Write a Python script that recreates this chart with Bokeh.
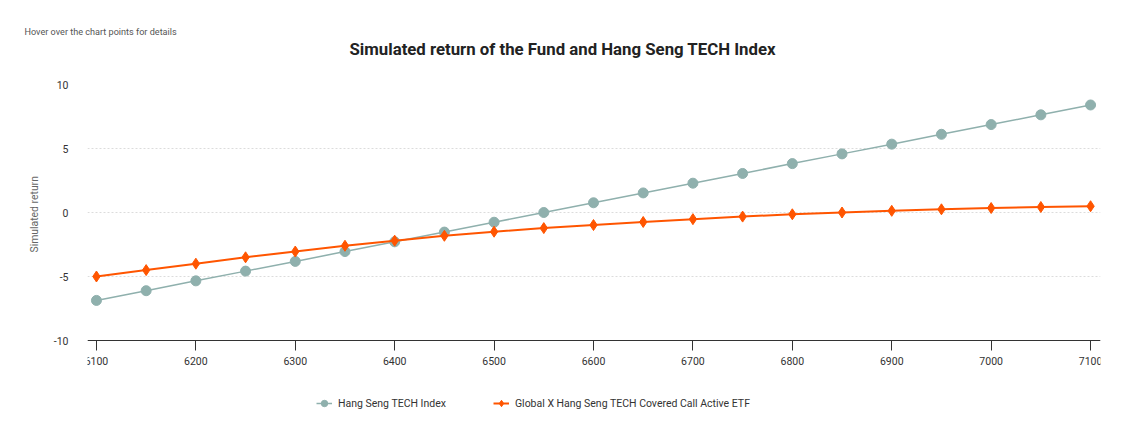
from bokeh.plotting import figure
from bokeh.models import (Range1d, Legend, LegendItem, FixedTicker, Title,
                          NumeralTickFormatter)
from bokeh.embed import file_html
from bokeh.resources import INLINE

# ---- data ----
index_levels = [6100, 6150, 6200, 6250, 6300, 6350, 6400, 6450, 6500, 6550, 6600,
                6650, 6700, 6750, 6800, 6850, 6900, 6950, 7000, 7050, 7100]
hstech_return = [-6.87, -6.11, -5.34, -4.58, -3.82, -3.05, -2.29, -1.53, -0.76, 0.00, 0.76,
                 1.53, 2.29, 3.05, 3.82, 4.58, 5.34, 6.11, 6.87, 7.63, 8.40]
etf_return = [-5.00, -4.50, -4.00, -3.50, -3.05, -2.60, -2.20, -1.82, -1.50, -1.22, -0.98,
              -0.74, -0.52, -0.32, -0.14, 0.00, 0.13, 0.25, 0.35, 0.43, 0.49]
x_ticks = [6100, 6200, 6300, 6400, 6500, 6600, 6700, 6800, 6900, 7000, 7100]
y_ticks = [-10, -5, 0, 5, 10]
series_names = ["Hang Seng TECH Index", "Global X Hang Seng TECH Covered Call Active ETF"]
title_text = "Simulated return of the Fund and Hang Seng TECH Index"
hint_text = "Hover over the chart points for details"
y_label = "Simulated return"

FONT = "Roboto"
GREY = "#8fb0ad"
ORANGE = "#ff5500"

# frame extends below the -10 line so the legend can live inside it
p = figure(frame_width=1013, frame_height=336, output_backend="svg", toolbar_location=None,
           x_range=Range1d(6091, 7110), y_range=Range1d(-16.25, 10), title=None,
           min_border_left=87, min_border_right=22, min_border_top=84, min_border_bottom=4)
p.outline_line_color = None
p.background_fill_color = "white"
p.border_fill_color = "white"

# grids
p.xgrid.grid_line_color = None
p.ygrid.ticker = FixedTicker(ticks=y_ticks)
p.ygrid.grid_line_color = "#dcdcdc"
p.ygrid.grid_line_dash = "2 2"
p.ygrid.grid_line_width = 1

# x axis, pinned at y = -10
p.xaxis.fixed_location = -10
p.xaxis.ticker = FixedTicker(ticks=x_ticks)
p.xaxis.formatter = NumeralTickFormatter(format="0")
p.xaxis.axis_line_color = "#333333"
p.xaxis.major_tick_line_color = "#333333"
p.xaxis.major_tick_out = 10
p.xaxis.major_tick_in = 0
p.xaxis.minor_tick_line_color = None
p.xaxis.major_label_standoff = 6
p.xaxis.major_label_text_font = FONT
p.xaxis.major_label_text_font_size = "10.5px"
p.xaxis.major_label_text_color = "#333333"

# y axis
p.yaxis.ticker = FixedTicker(ticks=y_ticks)
p.yaxis.formatter = NumeralTickFormatter(format="0")
p.yaxis.axis_line_color = None
p.yaxis.major_tick_line_color = None
p.yaxis.minor_tick_line_color = None
p.yaxis.major_tick_out = 0
p.yaxis.major_tick_in = 0
p.yaxis.major_label_standoff = 19
p.yaxis.major_label_text_font = FONT
p.yaxis.major_label_text_font_size = "10.5px"
p.yaxis.major_label_text_color = "#333333"

# y axis title, placed beside the -10..10 span
p.add_layout(Title(text=y_label, align="left", offset=168, standoff=20,
                   text_font=FONT, text_font_size="10.4px", text_font_style="normal",
                   text_color="#666666"), "left")

# series
l1 = p.line(index_levels, hstech_return, line_color=GREY, line_width=1.5)
s1 = p.scatter(index_levels, hstech_return, marker="circle", size=10,
               fill_color=GREY, line_color=GREY)
l2 = p.line(index_levels, etf_return, line_color=ORANGE, line_width=2)
s2 = p.scatter(index_levels, etf_return, marker="diamond", size=11,
               fill_color=ORANGE, line_color=ORANGE)

legend = Legend(items=[LegendItem(label=series_names[0], renderers=[l1, s1]),
                       LegendItem(label=series_names[1], renderers=[l2, s2])],
                orientation="horizontal", location=(229, 9),
                border_line_color=None, background_fill_alpha=0,
                padding=0, margin=0, spacing=47,
                glyph_width=16, glyph_height=16, label_height=16, label_standoff=6,
                label_text_font=FONT, label_text_font_size="10.5px",
                label_text_color="#333333")
p.add_layout(legend)

# titles (first added sits closest to the frame)
p.add_layout(Title(text=title_text, align="left", offset=262, standoff=52,
                   text_font=FONT, text_font_size="16.8px", text_font_style="bold",
                   text_color="#222222"), "above")
p.add_layout(Title(text=hint_text, align="left", offset=-63, standoff=-52,
                   text_font=FONT, text_font_size="9.1px", text_font_style="normal",
                   text_color="#555555"), "above")

open("out.html", "w").write(file_html(p, INLINE))
